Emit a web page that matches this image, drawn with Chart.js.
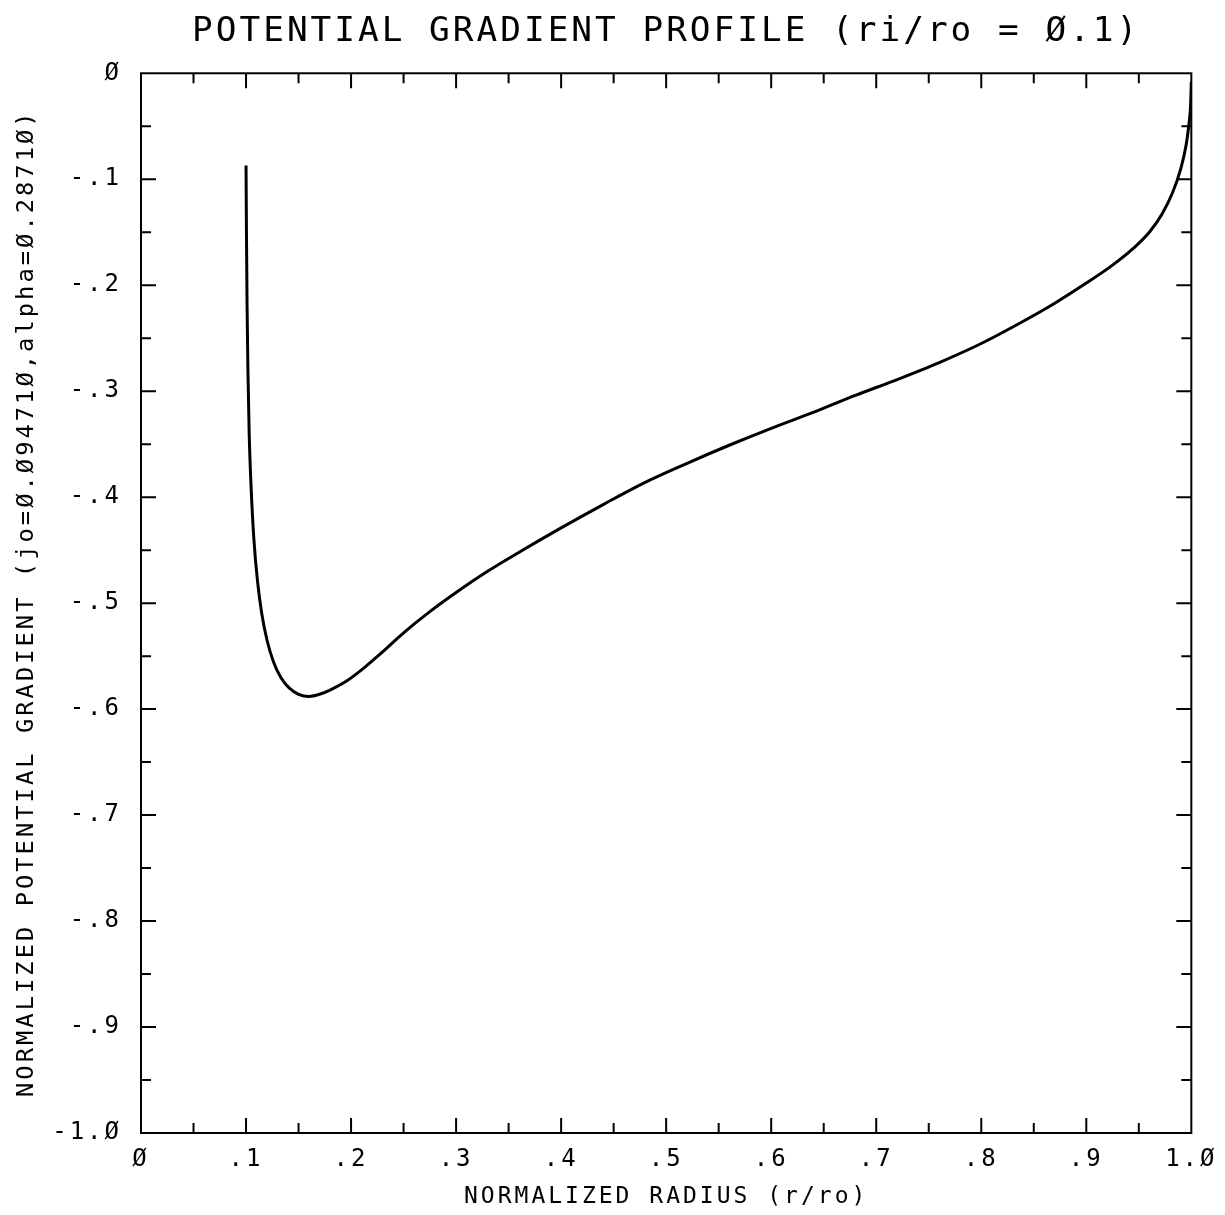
<!DOCTYPE html>
<html>
<head>
<meta charset="utf-8">
<script src="https://cdn.jsdelivr.net/npm/chart.js@4"></script>
<style>
  body { margin: 0; background: #fff; }
  #wrap { width: 1225px; height: 1215px; }
</style>
</head>
<body>
<div id="wrap"><canvas id="gradChart" width="1225" height="1215"></canvas></div>
<script>
// values
const radius = [0.1000, 0.1004, 0.1010, 0.1018, 0.1030, 0.1048, 0.1075, 0.1110, 0.1150, 0.1200,
  0.1260, 0.1330, 0.1410, 0.1500, 0.1600, 0.1700, 0.1800, 0.1950, 0.2100, 0.2300,
  0.2500, 0.2750, 0.3000, 0.3300, 0.3600, 0.4000, 0.4400, 0.4800, 0.5200, 0.5600,
  0.6000, 0.6400, 0.6800, 0.7200, 0.7600, 0.8000, 0.8400, 0.8700, 0.9000, 0.9250,
  0.9450, 0.9600, 0.9720, 0.9820, 0.9900, 0.9950, 0.9975, 0.9993, 1.0000];
const gradient = [-0.087, -0.150, -0.220, -0.280, -0.340, -0.390, -0.440, -0.480, -0.510, -0.535,
  -0.555, -0.570, -0.580, -0.586, -0.588, -0.586, -0.582, -0.574, -0.563, -0.546,
  -0.528, -0.508, -0.490, -0.470, -0.452, -0.429, -0.407, -0.386, -0.368, -0.351,
  -0.335, -0.320, -0.304, -0.289, -0.273, -0.255, -0.234, -0.217, -0.198, -0.181,
  -0.165, -0.150, -0.133, -0.113, -0.090, -0.068, -0.050, -0.030, -0.008];

const xTickLabels = ['Ø', '.1', '.2', '.3', '.4', '.5', '.6', '.7', '.8', '.9', '1.Ø'];
const yTickLabels = ['-1.Ø', '-.9', '-.8', '-.7', '-.6', '-.5', '-.4', '-.3', '-.2', '-.1', 'Ø'];

const FONT = "'DejaVu Sans Mono', 'Liberation Mono', monospace";

// plotter style: spaced out lettering, frame with inward ticks on all four sides
const plotterStyle = {
  id: 'plotterStyle',
  afterLayout(chart) {
    // center the title over the plot frame, not the whole canvas
    if (chart.titleBlock) {
      chart.titleBlock.left = chart.chartArea.left;
      chart.titleBlock.right = chart.chartArea.right;
    }
  },
  beforeDraw(chart) {
    chart.ctx.letterSpacing = '3px';
  },
  afterDraw(chart) {
    const ctx = chart.ctx;
    const xs = chart.scales.x;
    const ys = chart.scales.y;
    const { left, right, top, bottom } = chart.chartArea;
    ctx.save();
    ctx.letterSpacing = '0px';
    ctx.strokeStyle = '#000';
    ctx.lineWidth = 2;
    ctx.strokeRect(left, top, right - left, bottom - top);

    const n = xTickLabels.length - 1;
    for (let i = 1; i < n * 2; i++) {
      const len = i % 2 === 0 ? 15 : 10;
      const v = i / (n * 2);
      const px = xs.getPixelForValue(v);
      ctx.beginPath();
      ctx.moveTo(px, bottom); ctx.lineTo(px, bottom - len);
      ctx.moveTo(px, top); ctx.lineTo(px, top + len);
      ctx.stroke();
      const py = ys.getPixelForValue(-v);
      ctx.beginPath();
      ctx.moveTo(left, py); ctx.lineTo(left + len, py);
      ctx.moveTo(right, py); ctx.lineTo(right - len, py);
      ctx.stroke();
    }
    ctx.restore();
    chart.ctx.letterSpacing = '0px';
  }
};

Chart.defaults.color = '#000';
Chart.defaults.font.family = FONT;

new Chart('gradChart', {
  type: 'line',
  data: {
    datasets: [{
      data: radius.map((r, i) => ({ x: r, y: gradient[i] })),
      borderColor: '#000',
      borderWidth: 3,
      pointRadius: 0,
      cubicInterpolationMode: 'monotone',
      fill: false
    }]
  },
  options: {
    responsive: false,
    animation: false,
    events: [],
    layout: { padding: { left: 0, right: 31, top: 0, bottom: 0 } },
    plugins: {
      legend: { display: false },
      tooltip: { enabled: false },
      title: {
        display: true,
        text: 'POTENTIAL GRADIENT PROFILE (ri/ro = Ø.1)',
        font: { family: FONT, size: 34.4, weight: 'normal' },
        padding: { top: 11, bottom: 21 }
      }
    },
    scales: {
      x: {
        type: 'linear',
        min: 0,
        max: 1,
        grid: { display: false, drawTicks: false },
        border: { display: false },
        afterFit: (scale) => { scale.height = 82; },
        ticks: {
          stepSize: 0.1,
          padding: 12,
          maxRotation: 0,
          font: { size: 24 },
          callback: (v, i) => xTickLabels[i]
        },
        title: {
          display: true,
          text: 'NORMALIZED RADIUS (r/ro)',
          font: { size: 23 },
          padding: { top: 0, bottom: 4 }
        }
      },
      y: {
        type: 'linear',
        min: -1,
        max: 0,
        grid: { display: false, drawTicks: false },
        border: { display: false },
        afterFit: (scale) => { scale.width = 141; },
        ticks: {
          stepSize: 0.1,
          padding: 19,
          font: { size: 24 },
          callback: (v, i) => yTickLabels[i]
        },
        title: {
          display: true,
          text: 'NORMALIZED POTENTIAL GRADIENT (jo=Ø.Ø9471Ø,alpha=Ø.2871Ø)',
          font: { size: 23.8 },
          padding: { top: 13, bottom: 0 }
        }
      }
    }
  },
  plugins: [plotterStyle]
});
</script>
</body>
</html>
